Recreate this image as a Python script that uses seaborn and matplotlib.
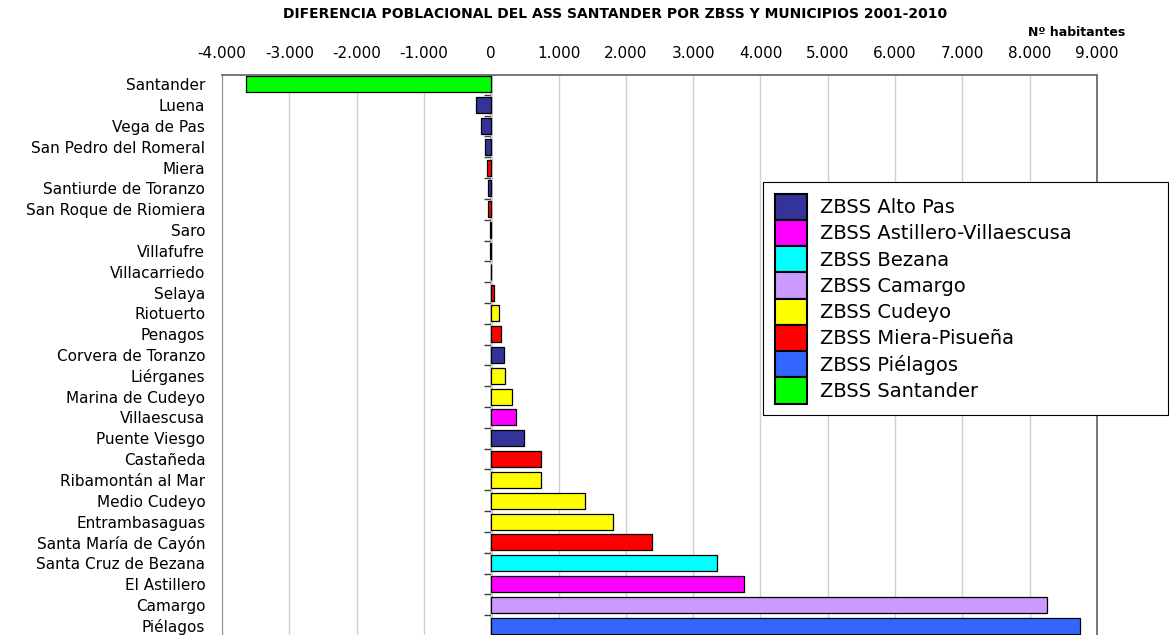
import pandas as pd
import matplotlib
matplotlib.use("Agg")
import matplotlib.pyplot as plt
from matplotlib.ticker import FuncFormatter, MultipleLocator
import seaborn as sns

# Data
municipios = ["Santander", "Luena", "Vega de Pas", "San Pedro del Romeral", "Miera",
              "Santiurde de Toranzo", "San Roque de Riomiera", "Saro", "Villafufre",
              "Villacarriedo", "Selaya", "Riotuerto", "Penagos", "Corvera de Toranzo",
              "Liérganes", "Marina de Cudeyo", "Villaescusa", "Puente Viesgo", "Castañeda",
              "Ribamontán al Mar", "Medio Cudeyo", "Entrambasaguas", "Santa María de Cayón",
              "Santa Cruz de Bezana", "El Astillero", "Camargo", "Piélagos"]
diferencia = [-3640, -220, -150, -100, -70, -55, -50, -25, -20, -5, 35, 110, 145, 190,
              210, 310, 365, 490, 745, 740, 1395, 1810, 2390, 3350, 3760, 8260, 8750]
zbss = ["ZBSS Santander", "ZBSS Alto Pas", "ZBSS Alto Pas", "ZBSS Alto Pas",
        "ZBSS Miera-Pisueña", "ZBSS Alto Pas", "ZBSS Miera-Pisueña", "ZBSS Miera-Pisueña",
        "ZBSS Miera-Pisueña", "ZBSS Miera-Pisueña", "ZBSS Miera-Pisueña", "ZBSS Cudeyo",
        "ZBSS Miera-Pisueña", "ZBSS Alto Pas", "ZBSS Cudeyo", "ZBSS Cudeyo",
        "ZBSS Astillero-Villaescusa", "ZBSS Alto Pas", "ZBSS Miera-Pisueña", "ZBSS Cudeyo",
        "ZBSS Cudeyo", "ZBSS Cudeyo", "ZBSS Miera-Pisueña", "ZBSS Bezana",
        "ZBSS Astillero-Villaescusa", "ZBSS Camargo", "ZBSS Piélagos"]

zonas = ["ZBSS Alto Pas", "ZBSS Astillero-Villaescusa", "ZBSS Bezana", "ZBSS Camargo",
         "ZBSS Cudeyo", "ZBSS Miera-Pisueña", "ZBSS Piélagos", "ZBSS Santander"]
colores = ["#333399", "#FF00FF", "#00FFFF", "#CC99FF", "#FFFF00", "#FF0000", "#3366FF", "#00FF00"]

df = pd.DataFrame({"municipio": municipios, "diferencia": diferencia, "zbss": zbss})

sns.set_style("white")
plt.rcParams["font.family"] = ["DejaVu Sans"]
plt.rcParams["text.color"] = "black"
plt.rcParams["xtick.color"] = "black"
plt.rcParams["ytick.color"] = "black"

fig = plt.figure(figsize=(11.7, 6.35), dpi=100)
W, H = 1170, 635
ax = fig.add_axes([222 / W, 0, (1097 - 222) / W, (635 - 75) / H])

sns.barplot(data=df, x="diferencia", y="municipio", hue="zbss", hue_order=zonas,
            palette=dict(zip(zonas, colores)), dodge=False, orient="h", width=0.77,
            edgecolor="black", linewidth=0.9, saturation=1, ax=ax, zorder=3)

ax.set_xlim(-4000, 9000)
ax.set_ylim(len(municipios) - 0.55, -0.45)
ax.xaxis.set_major_locator(MultipleLocator(1000))
ax.xaxis.set_major_formatter(FuncFormatter(lambda v, p: f"{int(v):,}".replace(",", ".")))
ax.xaxis.tick_top()
ax.tick_params(axis="x", length=0, pad=10, labelsize=11)
ax.tick_params(axis="y", length=0, pad=12, labelsize=11)
ax.grid(axis="x", color="#D0D0D0", linewidth=1, zorder=0)
ax.set_xlabel("")
ax.set_ylabel("")
for s in ["top", "right"]:
    ax.spines[s].set_color("#606060")
    ax.spines[s].set_linewidth(1.2)
ax.spines["left"].set_color("#909090")
ax.spines["bottom"].set_visible(False)

# category axis at zero with ticks between categories
sec = ax.secondary_yaxis(4000 / 13000)
sec.set_yticks([i + 0.5 for i in range(-1, len(municipios))])
sec.set_yticklabels([])
sec.tick_params(length=5, width=1, color="#404040")
sec.spines["left"].set_color("black")
sec.spines["left"].set_linewidth(1)

leg = ax.legend(loc="upper left", bbox_to_anchor=(763 / W, 0, (1168 - 763) / W, 1 - 182 / H),
                bbox_transform=fig.transFigure, mode="expand", fontsize=14,
                frameon=True, fancybox=False, edgecolor="black", framealpha=1,
                handlelength=1.65, handleheight=1.7, labelspacing=0, handletextpad=0.7,
                borderpad=0.6, borderaxespad=0)
leg.get_frame().set_linewidth(0.8)
for h in leg.legend_handles:
    h.set_edgecolor("black")
    h.set_linewidth(1.5)

fig.text(615 / W, 1 - 14 / H, "DIFERENCIA POBLACIONAL DEL ASS SANTANDER POR ZBSS Y MUNICIPIOS 2001-2010",
         ha="center", va="center", fontsize=10, fontweight="bold")
fig.text(1125 / W, 1 - 32 / H, "Nº habitantes", ha="right", va="center", fontsize=9, fontweight="bold")

fig.savefig("out.png", dpi=100)
